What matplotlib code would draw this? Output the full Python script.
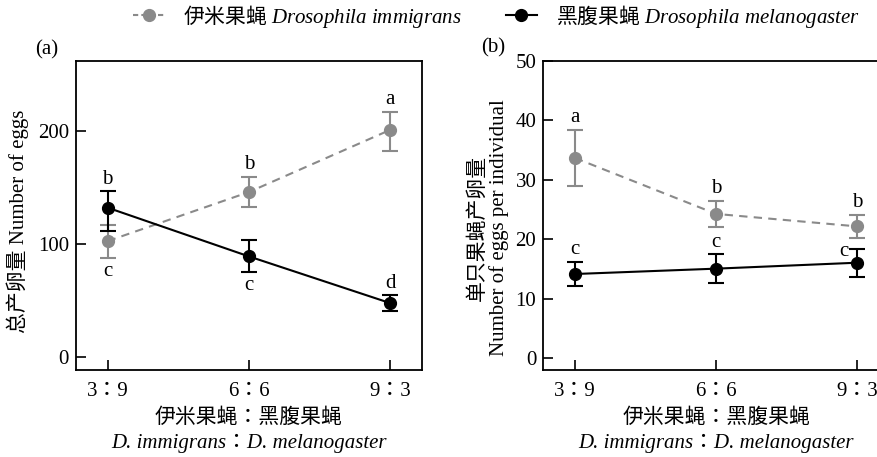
import matplotlib
matplotlib.use("Agg")
import matplotlib.pyplot as plt
from matplotlib.lines import Line2D
from matplotlib.font_manager import FontProperties

plt.rcParams['font.family'] = ['Liberation Serif', 'Noto Sans CJK SC']
plt.rcParams['mathtext.fontset'] = 'custom'
plt.rcParams['mathtext.it'] = 'Liberation Serif:italic'
plt.rcParams['mathtext.rm'] = 'Liberation Serif'
COLON_FAMILY = ['Liberation Serif', 'Noto Sans CJK TC']

# ---------------- data ----------------
ratios = ['3：9', '6：6', '9：3']

# panel (a) total number of eggs
a_imm_mean = [102.6, 146.0, 201.0]
a_imm_lo = [14.7, 13.3, 19.0]
a_imm_hi = [14.7, 13.3, 15.8]
a_mel_mean = [132.2, 89.1, 47.8]
a_mel_lo = [21.0, 13.9, 7.4]
a_mel_hi = [14.4, 14.8, 6.8]
a_imm_letters = ['c', 'b', 'a']
a_mel_letters = ['b', 'c', 'd']
a_imm_letter_side = ['below', 'above', 'above']
a_mel_letter_side = ['above', 'below', 'above']

# panel (b) eggs per individual
b_imm_mean = [33.7, 24.3, 22.2]
b_imm_err = [4.7, 2.2, 2.0]
b_mel_mean = [14.2, 15.1, 16.1]
b_mel_err = [2.1, 2.4, 2.35]
b_imm_letters = ['a', 'b', 'b']
b_mel_letters = ['c', 'c', 'c']

legend_labels = ['伊米果蝇 $\\it{Drosophila\\ immigrans}$',
                 '黑腹果蝇 $\\it{Drosophila\\ melanogaster}$']

GRAY = '#8a8a8a'
BLACK = '#000000'

fig = plt.figure(figsize=(8.77, 4.57), dpi=100)
W, H = 877, 457
axw = 345.7 / W
axh = 308.5 / H
axb = (H - 369.5) / H
axA = fig.add_axes([76 / W, axb, axw, axh])
axB = fig.add_axes([543.3 / W, axb, axw, axh])

x = list(range(len(ratios)))


def style_axes(ax):
    for s in ax.spines.values():
        s.set_linewidth(1.3)
    ax.tick_params(direction='in', length=7, width=1.2, labelsize=15)
    ax.tick_params(axis='x', pad=9)
    ax.tick_params(axis='y', pad=5)
    ax.set_xticks(x)
    ax.set_xticklabels(ratios, family=COLON_FAMILY)
    ax.set_xlim(-0.224, 2.224)


def series(ax, mean, lo, hi, color, ls):
    ax.errorbar(x, mean, yerr=[lo, hi], color=color, ls=ls, lw=1.5,
                marker='o', ms=8.5, mec=color, mfc=color,
                elinewidth=1.5, capsize=6, capthick=1.5, zorder=3)


def letters(ax, mean, lo, hi, labs, sides, dx=None, dy=None):
    for i, (m, l, h, t, s) in enumerate(zip(mean, lo, hi, labs, sides)):
        ox = 0 if dx is None else dx[i]
        oy = 0 if dy is None else dy[i]
        if s == 'above':
            ax.annotate(t, (x[i], m + h), xytext=(ox, 2 + oy), textcoords='offset points',
                        ha='center', va='bottom', fontsize=15)
        else:
            ax.annotate(t, (x[i], m - l), xytext=(ox, -3 + oy), textcoords='offset points',
                        ha='center', va='top', fontsize=15)


# ---- panel a ----
style_axes(axA)
series(axA, a_imm_mean, a_imm_lo, a_imm_hi, GRAY, (0, (4, 3)))
series(axA, a_mel_mean, a_mel_lo, a_mel_hi, BLACK, '-')
axA.set_ylim(-11, 262)
axA.set_yticks([0, 100, 200])
letters(axA, a_imm_mean, a_imm_lo, a_imm_hi, a_imm_letters, a_imm_letter_side)
letters(axA, a_mel_mean, a_mel_lo, a_mel_hi, a_mel_letters, a_mel_letter_side)
axA.set_ylabel('总产卵量 Number of eggs', fontsize=15)
axA.yaxis.set_label_coords(-0.135, 0.48)

# ---- panel b ----
style_axes(axB)
series(axB, b_imm_mean, b_imm_err, b_imm_err, GRAY, (0, (4, 3)))
series(axB, b_mel_mean, b_mel_err, b_mel_err, BLACK, '-')
axB.set_ylim(-1.85, 49.9)
axB.set_yticks([0, 10, 20, 30, 40, 50])
letters(axB, b_imm_mean, b_imm_err, b_imm_err, b_imm_letters, ['above'] * 3)
letters(axB, b_mel_mean, b_mel_err, b_mel_err, b_mel_letters, ['above'] * 3,
        dx=[0, 0, -10], dy=[0, 0, -11])
axB.set_ylabel('单只果蝇产卵量\nNumber of eggs per individual', fontsize=15,
               linespacing=1.1)
axB.yaxis.set_label_coords(-0.1, 0.46)

for ax in (axA, axB):
    ax.text(0.5, -0.157, '伊米果蝇：黑腹果蝇', transform=ax.transAxes,
            ha='center', va='center', fontsize=15, family=COLON_FAMILY)
    ax.text(0.5, -0.24, 'D. immigrans：D. melanogaster', transform=ax.transAxes,
            ha='center', va='center', fontsize=15, fontstyle='italic',
            family=COLON_FAMILY)

fig.text(35 / W, 1 - 50 / H, '(a)', fontsize=15, va='center', ha='left')
fig.text(481 / W, 1 - 48 / H, '(b)', fontsize=15, va='center', ha='left')

handles = [Line2D([], [], color=GRAY, ls=(0, (2.5, 1.5)), lw=1.5, marker='o', ms=8.5),
           Line2D([], [], color=BLACK, ls='-', lw=1.5, marker='o', ms=8.5)]
fig.legend(handles, legend_labels, loc='center', bbox_to_anchor=(0.566, 1 - 16 / H),
           ncol=2, frameon=False, prop=FontProperties(family='Noto Sans CJK SC', size=15),
           handlelength=1.5, handletextpad=0.9, columnspacing=2.1, borderaxespad=0,
           borderpad=0)

fig.savefig('out.png', dpi=100)
